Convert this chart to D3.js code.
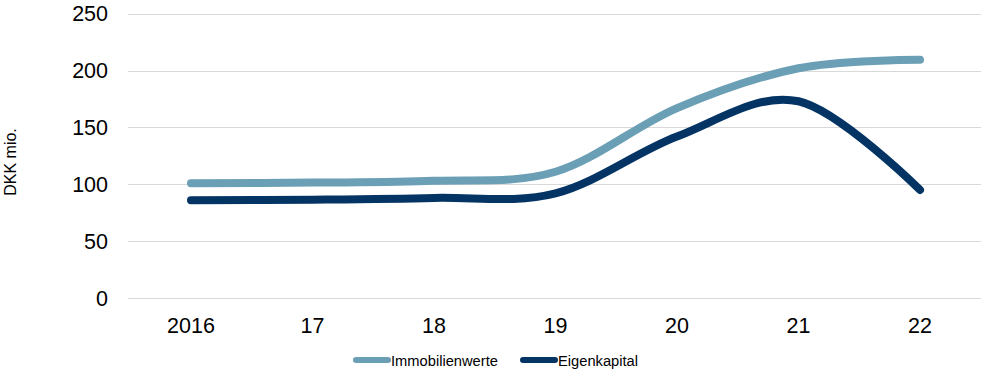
<!DOCTYPE html>
<html>
<head>
<meta charset="utf-8">
<script src="https://cdn.jsdelivr.net/npm/d3@7/dist/d3.min.js"></script>
<style>
  body { margin: 0; background: #fff; }
  svg text { font-family: "Liberation Sans", Arial, sans-serif; fill: #000; }
</style>
</head>
<body>
<div id="plot"></div>
<script>
'use strict';

const years = ['2016', '17', '18', '19', '20', '21', '22']
const immobilien = [101, 101.5, 103, 111, 167, 202, 209.5]
const eigenkapital = [86, 86.5, 88, 92, 142, 173, 95]
const yTicks = [0, 50, 100, 150, 200, 250]
const seriesNames = ['Immobilienwerte', 'Eigenkapital']

let col = ['#6b9fb5', '#043464']

let width = 993, height = 377;
let svg = d3.select('#plot').append('svg')
  .attr('width', width)
  .attr('height', height)

let x = d3.scaleBand()
  .domain(years)
  .range([130.25, 980.75])
let y = d3.scaleLinear()
  .domain([0, 250])
  .range([298, 13.7])

// grid
svg.append('g')
  .selectAll('line')
  .data(yTicks)
  .enter()
  .append('line')
  .attr('x1', 128)
  .attr('x2', 981)
  .attr('y1', d => Math.round(y(d)) + 0.5)
  .attr('y2', d => Math.round(y(d)) + 0.5)
  .attr('stroke', '#d9d9d9')
  .attr('stroke-width', 1)

// y labels
svg.append('g')
  .selectAll('text')
  .data(yTicks)
  .enter()
  .append('text')
  .attr('x', 108)
  .attr('y', d => y(d) + 7.5)
  .attr('text-anchor', 'end')
  .attr('font-size', '21.5px')
  .text(d => d)

// x labels
svg.append('g')
  .selectAll('text')
  .data(years)
  .enter()
  .append('text')
  .attr('x', d => x(d) + x.bandwidth() / 2)
  .attr('y', 333)
  .attr('text-anchor', 'middle')
  .attr('font-size', '21.5px')
  .text(d => d)

// axis title
svg.append('text')
  .attr('transform', 'translate(16, 162) rotate(-90)')
  .attr('text-anchor', 'middle')
  .attr('font-size', '16px')
  .text('DKK mio.')

let line = d3.line()
  .x((d, i) => x(years[i]) + x.bandwidth() / 2)
  .y(d => y(d))
  .curve(d3.curveCardinal.tension(0))

let drawLine = function(values, color) {
  svg.append('path')
    .attr('d', line(values))
    .attr('fill', 'none')
    .attr('stroke', color)
    .attr('stroke-width', 8)
    .attr('stroke-linecap', 'round')
    .attr('stroke-linejoin', 'round')
}
drawLine(immobilien, col[0]);
drawLine(eigenkapital, col[1]);

// legend
let legendX = [353, 520];
let legend = svg.append('g')
  .selectAll('g')
  .data(seriesNames)
  .enter()
  .append('g')
  .attr('transform', (d, i) => `translate(${legendX[i]}, 360)`)
legend.append('line')
  .attr('x1', 3)
  .attr('x2', 35)
  .attr('y1', 0)
  .attr('y2', 0)
  .attr('stroke', (d, i) => col[i])
  .attr('stroke-width', 6)
  .attr('stroke-linecap', 'round')
legend.append('text')
  .attr('x', 38)
  .attr('y', 5.5)
  .attr('font-size', '14.7px')
  .text(d => d)
</script>
</body>
</html>
